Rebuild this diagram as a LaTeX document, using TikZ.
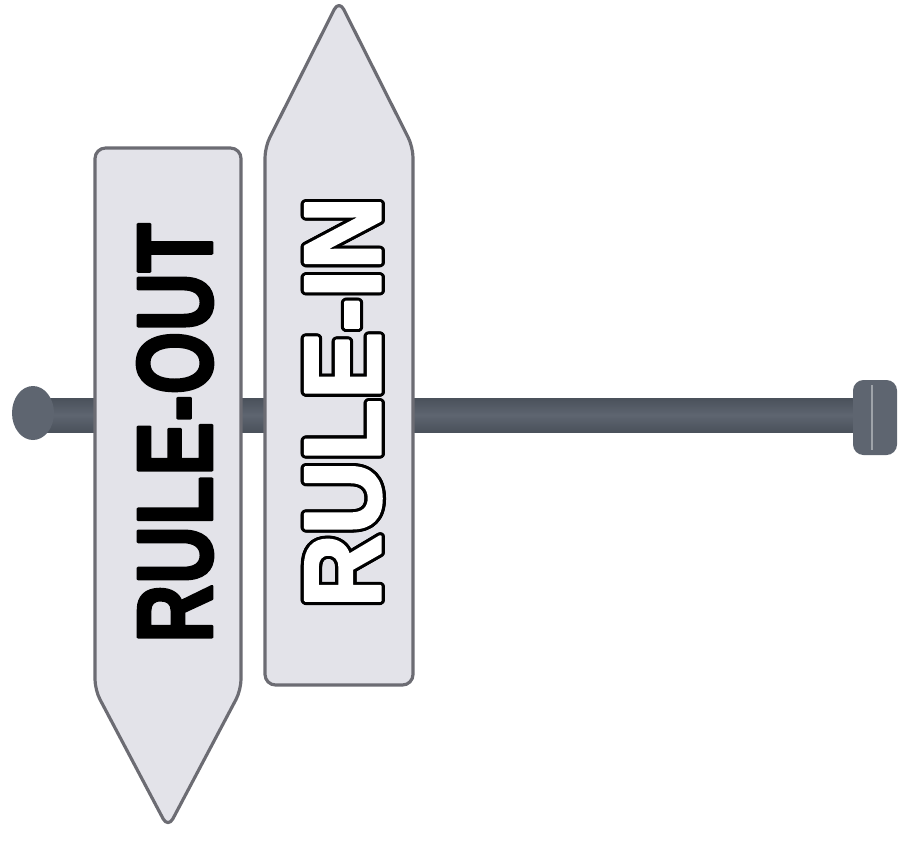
\documentclass[tikz,border=0pt]{standalone}
\usepackage{fontspec}
\usepackage{graphicx}
\usepackage[copies]{contour}
\usetikzlibrary{calc}
\newfontfamily\signfont{Liberation Sans Bold}[FakeBold=2.5]
\definecolor{SignFill}{HTML}{E3E3E9}
\definecolor{SignEdge}{HTML}{6C6C73}
\definecolor{PoleGray}{HTML}{5E6570}
\definecolor{PoleDark}{HTML}{4A515B}
\tikzset{
    SignBox/.style={fill=SignFill, draw=SignEdge, line width=1.8pt, rounded corners=6pt},
    SignText/.style={rotate=90, inner sep=0pt}
}

\begin{document}
\begin{tikzpicture}[x=0.02cm, y=-0.02cm, line join=round]
    \useasboundingbox (0,0) rectangle (901,846);

    % 横杆
    \shade[top color=PoleDark, bottom color=PoleDark, middle color=PoleGray] (30,398) rectangle (866,432);

    % 左端圆头
    \fill[PoleGray] (33,413) ellipse [x radius=21, y radius=27];

    % 右端端盖
    \fill[PoleGray, rounded corners=6pt] (853,380) rectangle (897,455);
    \draw[PoleGray!60!white, line width=0.8pt] (872,385) -- (872,450);

    % 向下的指示牌
    \draw[SignBox] (95,148) -- (241,148) -- (241,690) -- (168,828) -- (95,690) -- cycle;

    % 向上的指示牌
    \draw[SignBox] (265,685) -- (413,685) -- (413,147) -- (339,0) -- (265,147) -- cycle;

    % 牌上的文字
    \node[SignText] (RuleOut) at (175,433) {\resizebox{8.4cm}{1.5cm}{\signfont RULE-OUT}};
    \node[SignText] (RuleIn) at (345,402) {\resizebox{8.22cm}{1.5cm}{\contourlength{0.3pt}\contour{black}{\color{white}\signfont RULE-IN}}};
\end{tikzpicture}
\end{document}
